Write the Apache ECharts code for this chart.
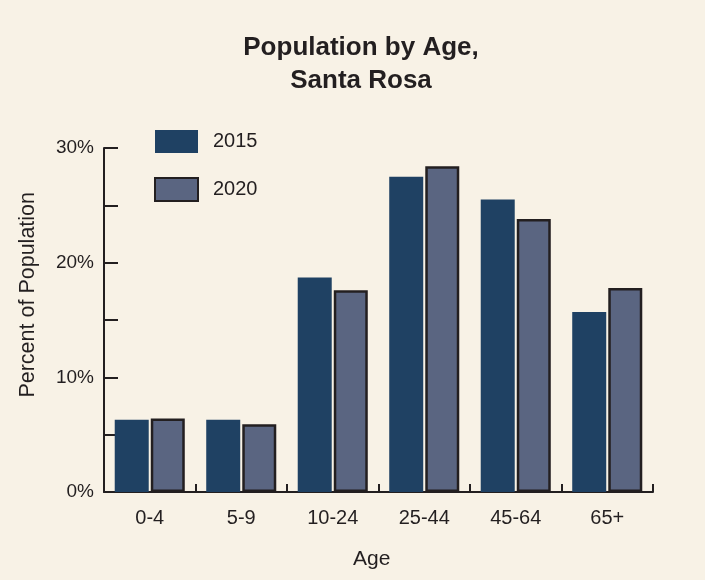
<!DOCTYPE html>
<html>
<head>
<meta charset="utf-8">
<script src="https://cdn.jsdelivr.net/npm/echarts@6/dist/echarts.min.js"></script>
<style>
  html, body { margin: 0; padding: 0; background: #f8f2e6; }
  #chart { width: 705px; height: 580px; }
</style>
</head>
<body>
<div id="chart"></div>
<script>
// Age groups and population share (%) for each year
const ageGroups = ['0-4', '5-9', '10-24', '25-44', '45-64', '65+'];
const share2015 = [6.3, 6.3, 18.7, 27.5, 25.5, 15.7];
const share2020 = [6.4, 5.9, 17.6, 28.4, 23.8, 17.8];
const yTickLabels = ['0%', '10%', '20%', '30%'];

const FONT = '"Liberation Sans", Arial, Helvetica, sans-serif';
const INK = '#231f20';

const chart = echarts.init(document.getElementById('chart'), null, { renderer: 'canvas' });

chart.setOption({
  backgroundColor: '#f8f2e6',
  animation: false,
  textStyle: { fontFamily: FONT, color: INK },
  title: {
    text: 'Population by Age,\nSanta Rosa',
    left: 356,
    textAlign: 'center',
    top: 26,
    textStyle: {
      fontFamily: FONT,
      fontSize: 26,
      fontWeight: 'bold',
      color: INK,
      lineHeight: 33
    }
  },
  legend: {
    orient: 'vertical',
    left: 154,
    top: 130,
    padding: 0,
    icon: 'rect',
    itemWidth: 43,
    itemHeight: 23,
    itemGap: 24,
    textStyle: { fontFamily: FONT, fontSize: 20, color: INK, padding: [2, 0, 0, 10] },
    data: ['2015', '2020']
  },
  grid: { left: 104, right: 52, top: 148, bottom: 88, containLabel: false },
  xAxis: {
    type: 'category',
    data: ageGroups,
    boundaryGap: true,
    axisLine: { lineStyle: { color: INK, width: 2 } },
    axisTick: { show: true, inside: true, length: 8, lineStyle: { color: INK, width: 2 } },
    axisLabel: { fontFamily: FONT, fontSize: 20, color: INK, margin: 16 }
  },
  yAxis: {
    type: 'value',
    min: 0,
    max: 30,
    interval: 5,
    splitLine: { show: false },
    axisLine: { show: true, lineStyle: { color: INK, width: 2 } },
    axisTick: { show: true, inside: true, length: 14, lineStyle: { color: INK, width: 2 } },
    axisLabel: {
      fontFamily: FONT,
      fontSize: 19,
      color: INK,
      margin: 10,
      padding: [5, 0, 0, 0],
      formatter: function (v) {
        return v % 10 === 0 ? yTickLabels[v / 10] : '';
      }
    }
  },
  graphic: [
    {
      type: 'text',
      left: 17,
      top: 192,
      style: {
        text: 'Percent of Population',
        font: '21.5px ' + FONT,
        fill: INK
      },
      rotation: Math.PI / 2,
      originX: 0,
      originY: 0
    },
    {
      type: 'text',
      left: 353,
      top: 549,
      style: {
        text: 'Age',
        font: '21px ' + FONT,
        fill: INK
      }
    }
  ],
  series: [
    {
      name: '2015',
      type: 'bar',
      data: share2015,
      barWidth: 34,
      barGap: '6%',
      itemStyle: { color: '#1f4163' }
    },
    {
      name: '2020',
      type: 'bar',
      data: share2020,
      barWidth: 34,
      itemStyle: { color: '#5a6581', borderColor: INK, borderWidth: 2.5 }
    }
  ]
});
</script>
</body>
</html>
